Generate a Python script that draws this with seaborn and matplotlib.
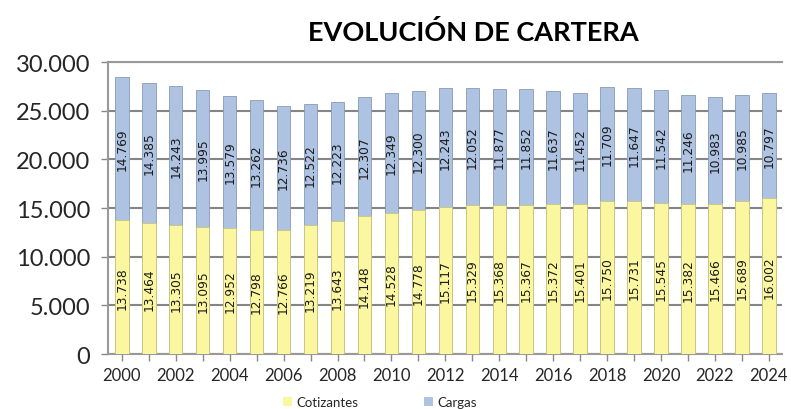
import matplotlib
matplotlib.use("Agg")
import matplotlib.pyplot as plt
import seaborn as sns
import pandas as pd
import numpy as np
from matplotlib.ticker import FuncFormatter
from matplotlib.patches import Patch

years = list(range(2000, 2025))
cotizantes = [13738, 13464, 13305, 13095, 12952, 12798, 12766, 13219, 13643, 14148,
              14528, 14778, 15117, 15329, 15368, 15367, 15372, 15401, 15750, 15731,
              15545, 15382, 15466, 15689, 16002]
cargas = [14769, 14385, 14243, 13995, 13579, 13262, 12736, 12522, 12223, 12307,
          12349, 12300, 12243, 12052, 11877, 11852, 11637, 11452, 11709, 11647,
          11542, 11246, 10983, 10985, 10797]
title = "EVOLUCIÓN DE CARTERA"
series_names = ["Cotizantes", "Cargas"]

c_yellow = "#FBF7A0"
c_blue = "#AEC2E2"

df = pd.DataFrame({"year": [str(y) for y in years],
                   "Cotizantes": cotizantes,
                   "Cargas": cargas})
df["Total"] = df["Cotizantes"] + df["Cargas"]

sns.set_theme(style="white")
plt.rcParams["font.family"] = ["Lato", "DejaVu Sans"]

fig = plt.figure(figsize=(7.91, 4.10), dpi=100)
ax = fig.add_axes([0.137, 0.134, 0.852, 0.712])

sns.barplot(data=df, x="year", y="Total", color=c_blue, width=0.5,
            saturation=1, ax=ax, edgecolor="#8A9AB5", linewidth=0.6, zorder=3)
sns.barplot(data=df, x="year", y="Cotizantes", color=c_yellow, width=0.5,
            saturation=1, ax=ax, edgecolor="#C9C57A", linewidth=0.6, zorder=3)

fmt = lambda v: f"{int(round(v)):,}".replace(",", ".")
blue_bars = ax.containers[0]
yellow_bars = ax.containers[1]
for rect, v in zip(blue_bars, cargas):
    cy = rect.get_height() - v / 2.0
    ax.text(rect.get_x() + rect.get_width() / 2, cy, fmt(v), rotation=90,
            ha="center", va="center", fontsize=8.8, color="#1a1a1a",
            family="DejaVu Sans", zorder=5)
for rect, v in zip(yellow_bars, cotizantes):
    ax.text(rect.get_x() + rect.get_width() / 2, v / 2.0, fmt(v), rotation=90,
            ha="center", va="center", fontsize=8.8, color="#1a1a1a",
            family="DejaVu Sans", zorder=5)

ax.set_ylim(0, 30000)
ax.set_xlim(-0.5, len(years) - 0.5)
ax.set_yticks(np.arange(0, 30001, 5000))
ax.yaxis.set_major_formatter(FuncFormatter(lambda v, p: fmt(v)))
ax.tick_params(axis="y", labelsize=17, length=5, color="#888888", width=1, pad=8)
ax.set_xticks(range(len(years)))
ax.set_xticklabels([str(y) if i % 2 == 0 else "" for i, y in enumerate(years)])
ax.tick_params(axis="x", labelsize=12, length=5, color="#888888", width=1, pad=4)
ax.tick_params(axis="both", direction="out", bottom=True, left=True)
ax.set_xlabel("")
ax.set_ylabel("")
ax.grid(axis="y", color="#858585", linewidth=1.5, zorder=0)
ax.set_axisbelow(True)
for s in ["left", "bottom", "top"]:
    ax.spines[s].set_color("#999999")
    ax.spines[s].set_linewidth(1.5)
ax.spines["right"].set_visible(False)

fig.text(0.598, 0.92, title, ha="center", va="center", fontsize=19.5,
         fontweight="bold", color="black")

handles = [Patch(facecolor=c_yellow, edgecolor="none"),
           Patch(facecolor=c_blue, edgecolor="none")]
fig.legend(handles, series_names, loc="center", bbox_to_anchor=(0.48, 0.017),
           ncol=2, frameon=False, fontsize=9.5, handlelength=0.7, handleheight=0.7,
           columnspacing=5.0, handletextpad=0.3)

fig.savefig("out.png", dpi=100)
